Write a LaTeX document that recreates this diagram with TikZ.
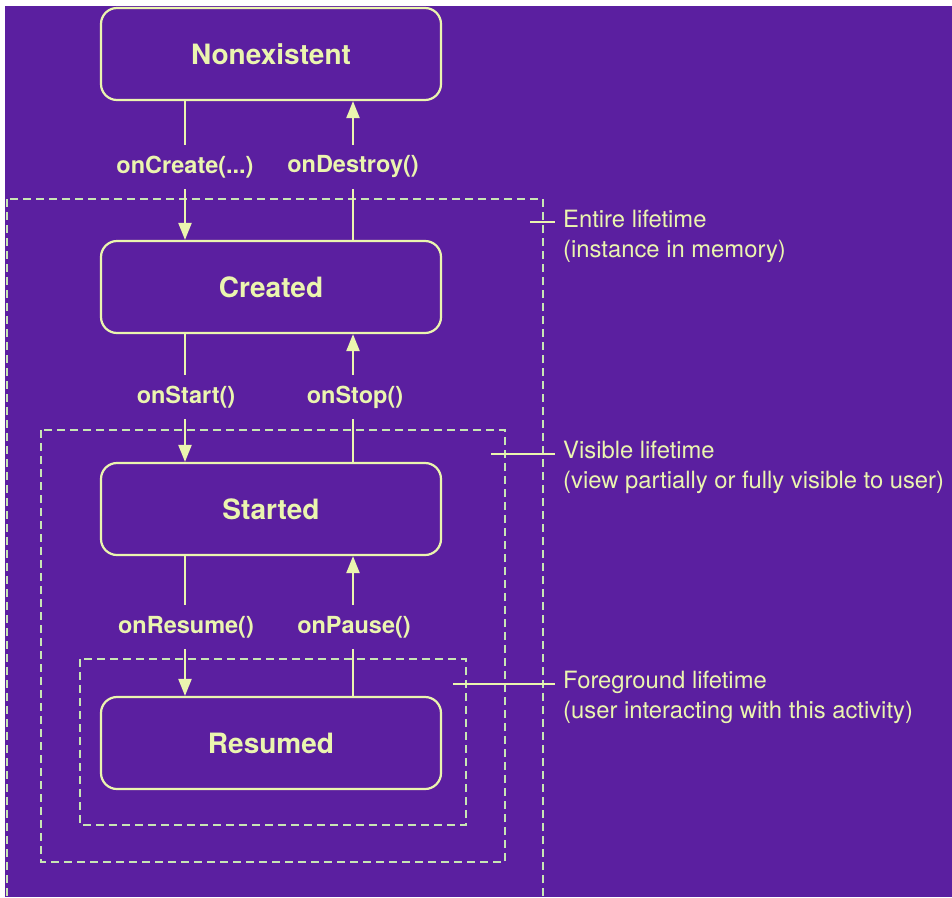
\documentclass[tikz,border=0pt]{standalone}
\usepackage{fontspec}
\setmainfont{TeX Gyre Heros}
\usepackage{tikz}
\usetikzlibrary{
    arrows.meta,
    positioning,
    calc
}
\tikzset{
  state/.style  = {draw=PaleLime, rounded corners=16pt, line width=2.2pt,
                   minimum width=340pt, minimum height=92pt, align=center,
                   text=PaleLime, font=\fontsize{28}{32}\selectfont\bfseries},
  cb/.style     = {minimum height=44pt, inner sep=0pt, text=PaleLime,
                   font=\fontsize{23.5}{26}\selectfont\bfseries},
  note/.style   = {anchor=north west, inner sep=0pt, align=left, text=PaleLime,
                   font=\fontsize{23.8}{30}\selectfont},
  zone/.style   = {draw=ZoneLine, line width=1.3pt, dash pattern=on 8pt off 5pt},
  arr/.style    = {-{Triangle[length=17pt, width=13pt]}, line width=2.2pt, PaleLime},
  ln/.style     = {line width=2.2pt, PaleLime},
  tick/.style   = {line width=1.3pt, PaleLime}
}
\definecolor{LifePurple}{RGB}{91,31,160}
\definecolor{PaleLime}{RGB}{235,245,175}
\definecolor{ZoneLine}{RGB}{200,230,180}

\begin{document}
\begin{tikzpicture}[x=1pt, y=-1pt]
\fill[white] (0,0) rectangle (952,897);
\fill[LifePurple] (5,6) rectangle (952,897);
\useasboundingbox (0,0) rectangle (952,897);

% lifetime zones
\draw[zone] (7,199) rectangle (543,910);
\draw[zone] (41,430) rectangle (505,862);
\draw[zone] (80,659) rectangle (466,825);

% states
\node[state] (non) at (271,54)  {Nonexistent};
\node[state] (cre) at (271,287) {Created};
\node[state] (sta) at (271,509) {Started};
\node[state] (res) at (271,743) {Resumed};

% callbacks
\node[cb] (create)  at (185,167) {onCreate(...)};
\node[cb] (destroy) at (353,167) {onDestroy()};
\node[cb] (start)   at (186,397) {onStart()};
\node[cb] (stop)    at (355,397) {onStop()};
\node[cb] (resume)  at (186,627) {onResume()};
\node[cb] (pause)   at (354,627) {onPause()};

\draw[ln]  (non.south -| 185,0) -- (185,0 |- create.north);
\draw[arr] (185,0 |- create.south) -- (cre.north -| 185,0);
\draw[ln]  (cre.north -| 353,0) -- (353,0 |- destroy.south);
\draw[arr] (353,0 |- destroy.north) -- (non.south -| 353,0);

\draw[ln]  (cre.south -| 185,0) -- (185,0 |- start.north);
\draw[arr] (185,0 |- start.south) -- (sta.north -| 185,0);
\draw[ln]  (sta.north -| 353,0) -- (353,0 |- stop.south);
\draw[arr] (353,0 |- stop.north) -- (cre.south -| 353,0);

\draw[ln]  (sta.south -| 185,0) -- (185,0 |- resume.north);
\draw[arr] (185,0 |- resume.south) -- (res.north -| 185,0);
\draw[ln]  (res.north -| 353,0) -- (353,0 |- pause.south);
\draw[arr] (353,0 |- pause.north) -- (sta.south -| 353,0);

% notes
\node[note] (entire) at (563,210) {Entire lifetime\\(instance in memory)};
\node[note] (visible) at (563,441) {Visible lifetime\\(view partially or fully visible to user)};
\node[note] (fore) at (563,671) {Foreground lifetime\\(user interacting with this activity)};

\coordinate (te) at (530,222);
\coordinate (tv) at (491,454);
\coordinate (tf) at (453,684);
\draw[tick] (te) -- (te -| 555,0);
\draw[tick] (tv) -- (tv -| 555,0);
\draw[tick] (tf) -- (tf -| 555,0);
\end{tikzpicture}
\end{document}
